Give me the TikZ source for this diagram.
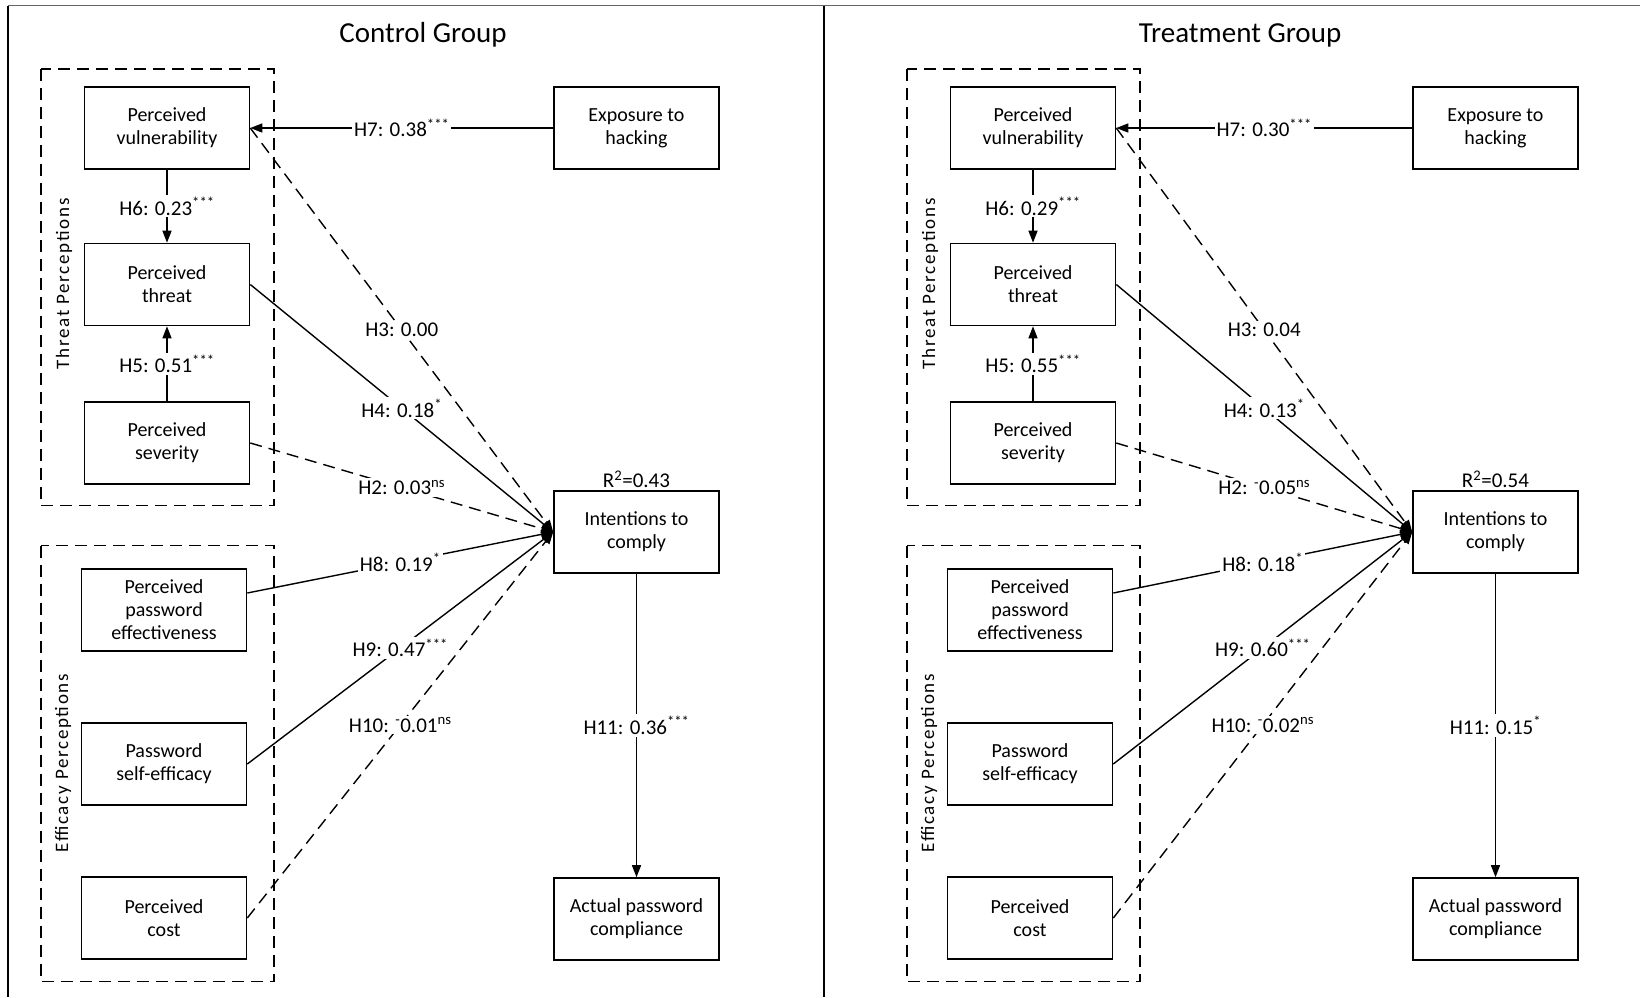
\documentclass[tikz,border=0pt]{standalone}
\usepackage{fontspec}
\setmainfont{Carlito}
\newfontfamily\groupfont[LetterSpace=9]{Carlito}
\usetikzlibrary{arrows.meta,calc}

% significance marks and the small raised minus sign
\newcommand{\sig}[1]{\textsuperscript{#1}}
\newcommand{\negsgn}{\textsuperscript{-}}

% one path model: #1 node-name prefix, #2 offset of the construct groups,
% #3 offset of the outcome column
\newcommand{\modelpanel}[3]{%
\begin{scope}[xshift=#2]
  % construct groups
  \draw[groupbox] (40.8,69) rectangle (274,505.7);
  \draw[groupbox] (40.8,545.7) rectangle (274,981.7);
  \node[grouplabel] (#1tpl) at (64,284) {Threat Perceptions};
  \node[grouplabel] (#1epl) at (63,763) {Efficacy Perceptions};
  % constructs
  \node[construct] (#1pv)  at (167,128)   {Perceived\\vulnerability};
  \node[construct] (#1pt)  at (167,284.5) {Perceived\\threat};
  \node[construct] (#1ps)  at (167,443)   {Perceived\\severity};
  \node[construct] (#1ppe) at (164,610)   {Perceived\\password\\effectiveness};
  \node[construct] (#1pse) at (164,764)   {Password\\self-efficacy};
  \node[construct] (#1pc)  at (164,918)   {Perceived\\cost};
\end{scope}
\begin{scope}[xshift=#3]
  \node[construct] (#1exp) at (636.5,128) {Exposure to\\hacking};
  \node[construct] (#1int) at (636.5,532) {Intentions to\\comply};
  \node[construct] (#1act) at (636.5,919) {Actual password\\compliance};
  \node[lbl, fill=none, anchor=south] (#1r2) at (#1int.north) {R\sig{2}=\prsq};
\end{scope}
  % hypothesised paths
  \draw[link]  (#1exp.west) -- node[lbl]{H7: \pseven} (#1pv.east);
  \draw[link]  (#1pv.south) -- node[lbl]{H6: \psix} (#1pt.north);
  \draw[link]  (#1ps.north) -- node[lbl]{H5: \pfive} (#1pt.south);
  \draw[dlink] (#1pv.east)  -- node[lbl]{H3: \pthree} (#1int.west);
  \draw[link]  (#1pt.east)  -- node[lbl]{H4: \pfour} (#1int.west);
  \draw[dlink] (#1ps.east)  -- node[lbl]{H2: \ptwo} (#1int.west);
  \draw[link]  ($(#1ppe.east)+(0,-17)$) -- node[lbl]{H8: \peight} (#1int.west);
  \draw[link]  (#1pse.east) -- node[lbl]{H9: \pnine} (#1int.west);
  \draw[dlink] (#1pc.east)  -- node[lbl]{H10: \pten} (#1int.west);
  \draw[link]  (#1int.south) -- node[lbl]{H11: \peleven} (#1act.north);
}

\begin{document}
\begin{tikzpicture}[x=1pt,y=-1pt,
  construct/.style={draw, line width=1.6pt, minimum width=165pt, minimum height=82pt,
    align=center, inner sep=2pt, font=\fontsize{20}{23}\selectfont},
  groupbox/.style={line width=1.4pt, dash pattern=on 12pt off 7pt},
  grouplabel/.style={rotate=90, inner sep=0pt, font=\groupfont\fontsize{19}{21}\selectfont},
  lbl/.style={fill=white, inner sep=2pt, font=\fontsize{21}{24}\selectfont},
  link/.style={line width=1.4pt, -{Triangle[length=12pt,width=9pt]}},
  dlink/.style={link, dash pattern=on 12pt off 7pt},
  title/.style={font=\fontsize{29}{32}\selectfont}]
\useasboundingbox (0,0) rectangle (1640,997);

% outer frame and panel divider
\draw[line width=1.3pt, black!60] (8,5.7) -- (1640,5.7);
\draw[line width=1.6pt] (8,5.7) -- (8,997);
\draw[line width=1.6pt] (824,5.7) -- (824,997);

\node[title] (ctitle) at (423,35) {Control Group};
\node[title] (ttitle) at (1240,35) {Treatment Group};

% control group estimates
\def\pseven{0.38\sig{***}}
\def\psix{0.23\sig{***}}
\def\pfive{0.51\sig{***}}
\def\pthree{0.00}
\def\pfour{0.18\sig{*}}
\def\ptwo{0.03\sig{ns}}
\def\peight{0.19\sig{*}}
\def\pnine{0.47\sig{***}}
\def\pten{\negsgn0.01\sig{ns}}
\def\peleven{0.36\sig{***}}
\def\prsq{0.43}
\modelpanel{c}{0pt}{0pt}

% treatment group estimates
\def\pseven{0.30\sig{***}}
\def\psix{0.29\sig{***}}
\def\pfive{0.55\sig{***}}
\def\pthree{0.04}
\def\pfour{0.13\sig{*}}
\def\ptwo{\negsgn0.05\sig{ns}}
\def\peight{0.18\sig{*}}
\def\pnine{0.60\sig{***}}
\def\pten{\negsgn0.02\sig{ns}}
\def\peleven{0.15\sig{*}}
\def\prsq{0.54}
\modelpanel{t}{866pt}{859pt}

\end{tikzpicture}
\end{document}
